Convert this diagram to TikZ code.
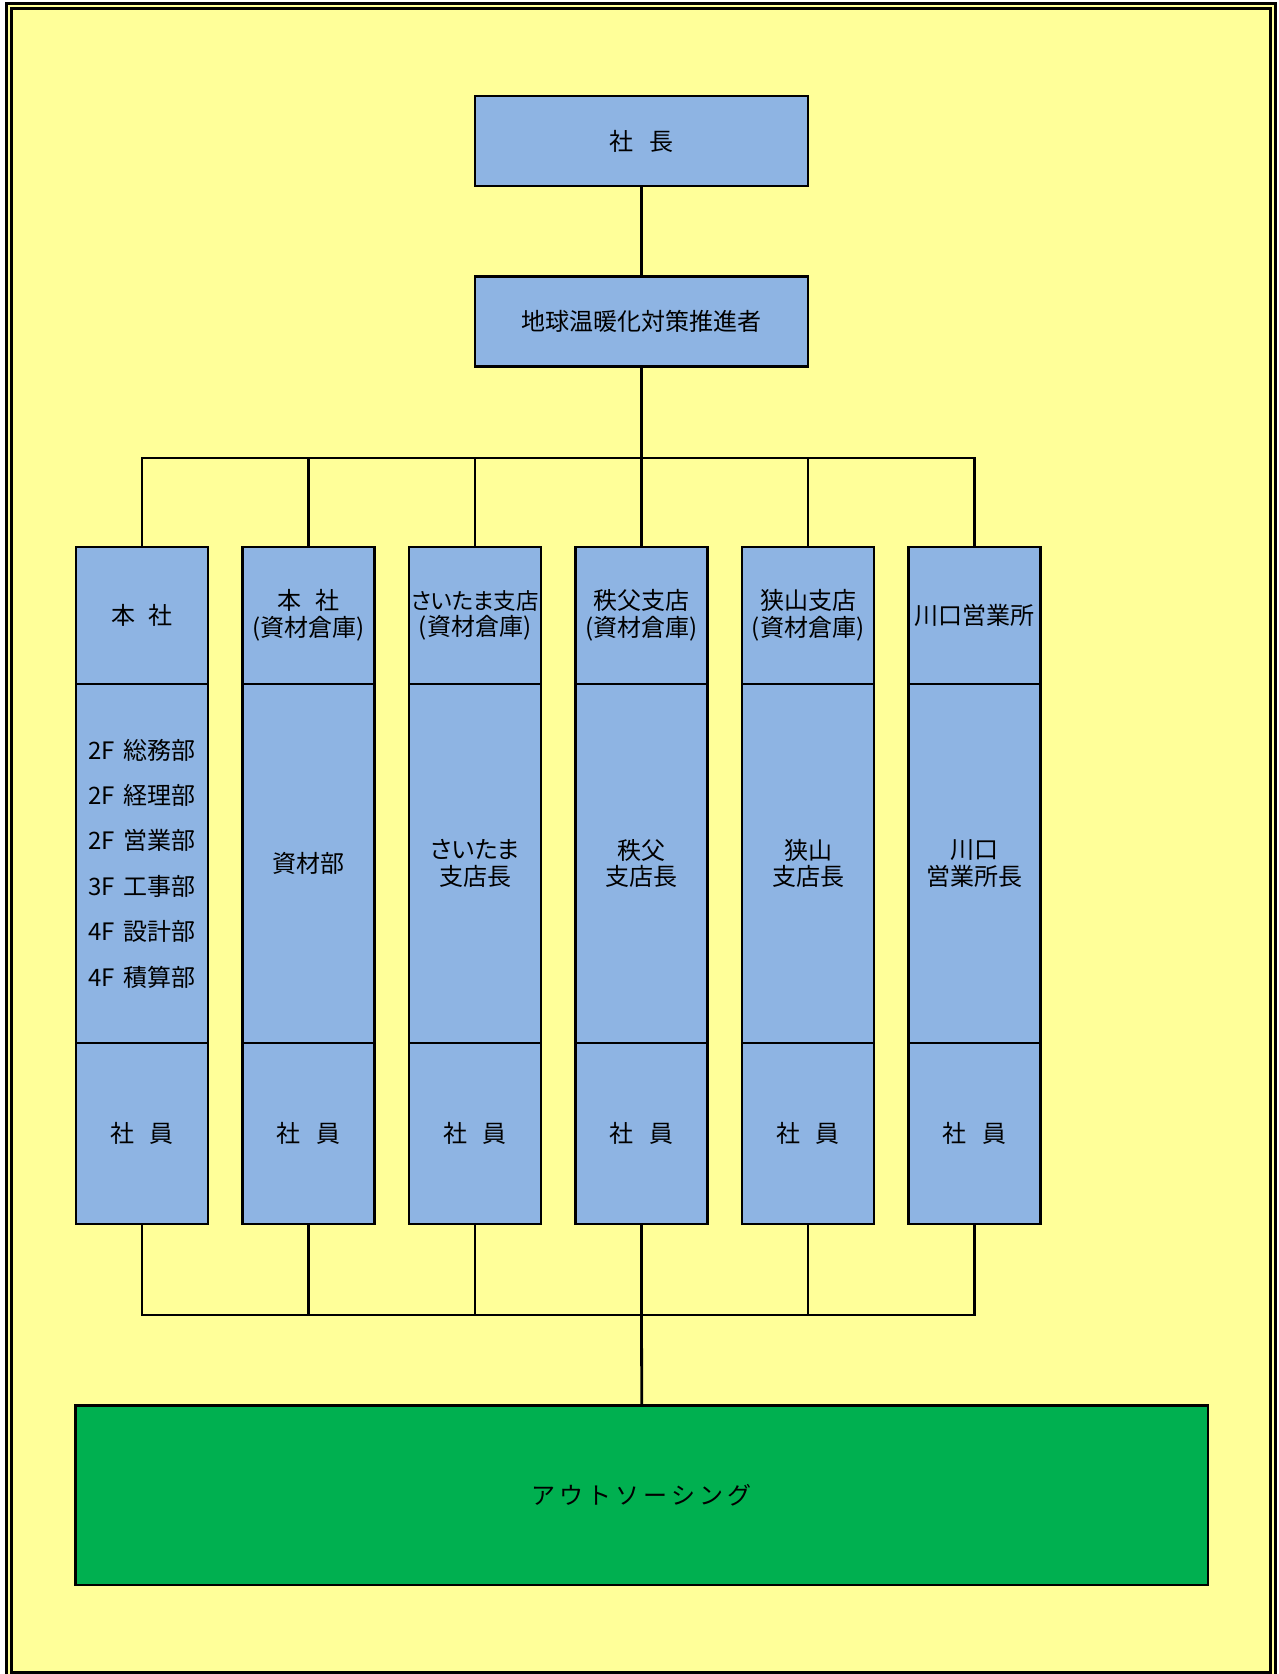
\documentclass[tikz,border=0pt]{standalone}
\usepackage{fontspec}
\setmainfont{Noto Sans CJK JP}
\newfontfamily\paltfont[RawFeature=+palt]{Noto Sans CJK JP}
\definecolor{bgyellow}{HTML}{FFFF99}
\definecolor{boxblue}{HTML}{8EB4E3}
\definecolor{outgreen}{HTML}{00B050}
\tikzset{
  frameline/.style={line width=2.8pt},
  box/.style={draw, line width=2.8pt, fill=boxblue, inner sep=0pt, align=center,
    font=\fontsize{24}{26.5}\selectfont},
  topbox/.style={box, minimum width=333pt, minimum height=90pt},
  colhead/.style={box, minimum width=132pt, minimum height=137pt},
  colmid/.style={box, minimum width=132pt, minimum height=359pt},
  colfoot/.style={box, minimum width=132pt, minimum height=181pt},
  listtext/.style={font=\fontsize{24}{45.4}\selectfont},
  greenbox/.style={draw, line width=2.8pt, fill=outgreen, inner sep=0pt,
    minimum width=1132.5pt, minimum height=179.5pt, font=\fontsize{24}{26.5}\selectfont},
  conn/.style={line width=2.8pt, line join=miter}
}
\newcommand{\jsp}{\hspace{16pt}}
\newcommand{\kgap}{\hspace{4pt}}
\begin{document}
\begin{tikzpicture}[x=1pt,y=-1pt]
\useasboundingbox (0,0) rectangle (1279,1674);
\fill[white] (0,0) rectangle (1279,1674);
\fill[bgyellow] (6.3,3.2) rectangle (1275.5,1678);
\draw[frameline] (6.3,3.2) rectangle (1275.5,1678);
\draw[frameline] (11.5,8.2) rectangle (1270.5,1672.2);

\node[topbox] (pres) at (641.5,141) {社\jsp 長};
\node[topbox] (prom) at (641.5,321.5) {地球温暖化対策推進者};

% column 1
\node[colhead] (h1) at (142,615.5) {本\hspace{14pt}社};
\node[colmid, listtext] (m1) at (142,863.5) {2F\hspace{9pt}総務部\\2F\hspace{9pt}経理部\\2F\hspace{9pt}営業部\\3F\hspace{9pt}工事部\\4F\hspace{9pt}設計部\\4F\hspace{9pt}積算部};
\node[colfoot] (f1) at (142,1133.5) {社\jsp 員};
% column 2
\node[colhead] (h2) at (308.5,615.5) {本\hspace{14pt}社\\(資材倉庫)};
\node[colmid] (m2) at (308.5,863.5) {資材部};
\node[colfoot] (f2) at (308.5,1133.5) {社\jsp 員};
% column 3
\node[colhead] (h3) at (475,615.5) {\fontsize{22.5}{26.5}\selectfont{\paltfont さいたま}支店\\\fontsize{24}{26.5}\selectfont(資材倉庫)};
\node[colmid] (m3) at (475,863.5) {{\paltfont さいたま}\\支店長};
\node[colfoot] (f3) at (475,1133.5) {社\jsp 員};
% column 4
\node[colhead] (h4) at (641.5,615.5) {秩父支店\\(資材倉庫)};
\node[colmid] (m4) at (641.5,863.5) {秩父\\支店長};
\node[colfoot] (f4) at (641.5,1133.5) {社\jsp 員};
% column 5
\node[colhead] (h5) at (808,615.5) {狭山支店\\(資材倉庫)};
\node[colmid] (m5) at (808,863.5) {狭山\\支店長};
\node[colfoot] (f5) at (808,1133.5) {社\jsp 員};
% column 6
\node[colhead] (h6) at (974.5,615.5) {川口営業所};
\node[colmid] (m6) at (974.5,863.5) {川口\\営業所長};
\node[colfoot] (f6) at (974.5,1133.5) {社\jsp 員};

\node[greenbox] (out) at (641.75,1495.25) {ア\kgap ウ\kgap ト\kgap ソ\kgap ー\kgap シ\kgap ン\kgap グ};

\coordinate (busT) at (641.5,458);
\coordinate (busB) at (641.5,1315);

\draw[conn] (pres) -- (prom);
\draw[conn] (prom.south) -- (busT);
\draw[conn] (h1.north) -- (h1.north |- busT) -- (h6.north |- busT) -- (h6.north);
\foreach \i in {2,3,4,5} { \draw[conn] (h\i.north) -- (h\i.north |- busT); }

\draw[conn] (f1.south) -- (f1.south |- busB) -- (f6.south |- busB) -- (f6.south);
\foreach \i in {2,3,4,5} { \draw[conn] (f\i.south) -- (f\i.south |- busB); }
\draw[conn] (busB) -- (out.north);
\end{tikzpicture}
\end{document}
